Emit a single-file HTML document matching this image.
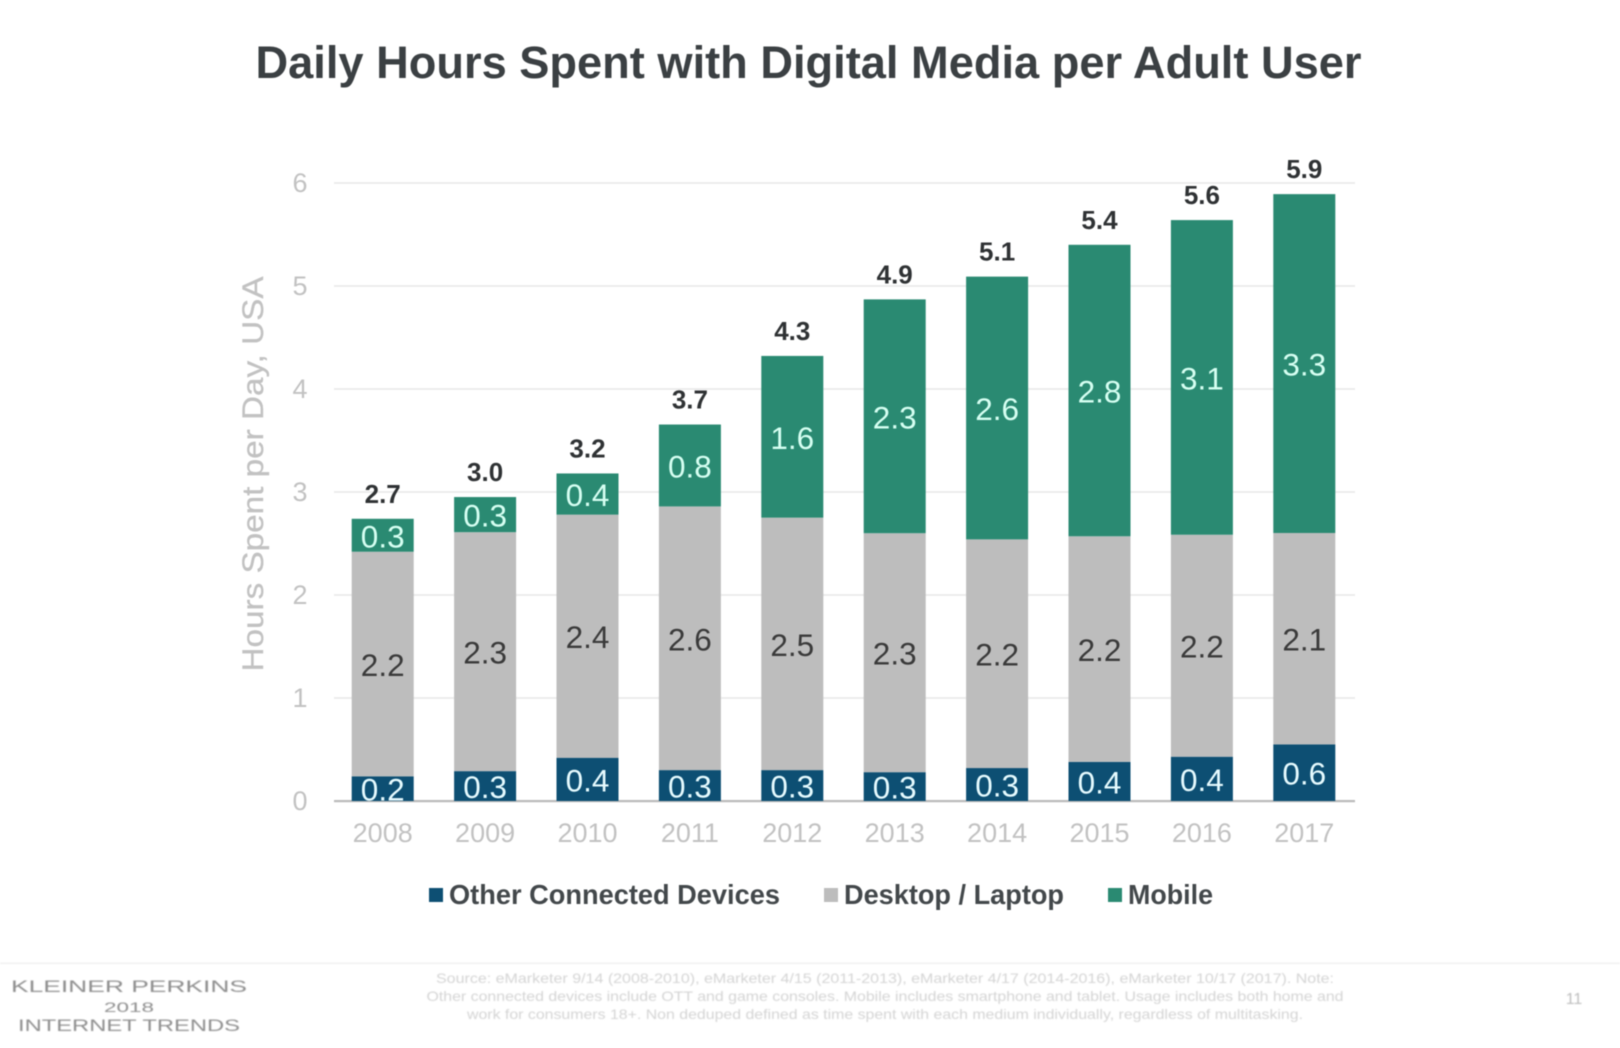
<!DOCTYPE html>
<html lang="en">
<head>
<meta charset="utf-8">
<title>Daily Hours Spent with Digital Media per Adult User</title>
<style>
html,body{margin:0;padding:0;background:#fff;width:1620px;height:1048px;overflow:hidden}
svg{display:block;font-family:"Liberation Sans",sans-serif}
#chart-root{filter:blur(.45px)}
#footer-root{filter:blur(.7px)}
</style>
</head>
<body>
<svg id="slide" width="1620" height="1048" viewBox="0 0 1620 1048">
  <g id="chart-root">
    <text x="808.5" y="78" text-anchor="middle" font-size="45" font-weight="700" fill="#3b4043" textLength="1106" lengthAdjust="spacingAndGlyphs">Daily Hours Spent with Digital Media per Adult User</text>
    <g id="grid"></g>
    <g id="bars"></g>
    <g id="yticks"></g>
    <g id="xticks"></g>
    <text transform="translate(263,474) rotate(-90)" text-anchor="middle" font-size="30" fill="#c2c2c2" stroke="#c2c2c2" stroke-width=".3" textLength="395" lengthAdjust="spacingAndGlyphs">Hours Spent per Day, USA</text>
    <g>
      <g>
        <rect x="429" y="888" width="14" height="14" fill="#0d4f73"></rect>
        <text x="449" y="904" font-size="28" font-weight="700" fill="#43484b" textLength="331" lengthAdjust="spacingAndGlyphs">Other Connected Devices</text>
      </g>
      <g>
        <rect x="824" y="888" width="14" height="14" fill="#bdbdbd"></rect>
        <text x="844" y="904" font-size="28" font-weight="700" fill="#43484b" textLength="220" lengthAdjust="spacingAndGlyphs">Desktop / Laptop</text>
      </g>
      <g>
        <rect x="1108" y="888" width="14" height="14" fill="#2a8a72"></rect>
        <text x="1128" y="904" font-size="28" font-weight="700" fill="#43484b" textLength="85" lengthAdjust="spacingAndGlyphs">Mobile</text>
      </g>
    </g>
  </g>
  <g id="footer-root">
    <rect x="0" y="962.5" width="1620" height="1.5" fill="#efefef"></rect>
    <text x="129" y="992" text-anchor="middle" font-size="17" fill="#8e8e8e" textLength="236" lengthAdjust="spacingAndGlyphs">KLEINER PERKINS</text>
    <text x="129" y="1012" text-anchor="middle" font-size="14" fill="#8e8e8e" textLength="50" lengthAdjust="spacingAndGlyphs">2018</text>
    <text x="129" y="1031" text-anchor="middle" font-size="17" fill="#8e8e8e" textLength="222" lengthAdjust="spacingAndGlyphs">INTERNET TRENDS</text>
    <g font-size="14" fill="#d4d4d4" text-anchor="middle">
      <text x="885" y="983" textLength="898" lengthAdjust="spacingAndGlyphs">Source: eMarketer 9/14 (2008-2010), eMarketer 4/15 (2011-2013), eMarketer 4/17 (2014-2016), eMarketer 10/17 (2017). Note:</text>
      <text x="885" y="1001" textLength="917" lengthAdjust="spacingAndGlyphs">Other connected devices include OTT and game consoles. Mobile includes smartphone and tablet. Usage includes both home and</text>
      <text x="885" y="1019" textLength="836" lengthAdjust="spacingAndGlyphs">work for consumers 18+. Non deduped defined as time spent with each medium individually, regardless of multitasking.</text>
    </g>
    <text x="1574" y="1004" text-anchor="middle" font-size="16" fill="#bdbdbd">11</text>
  </g>
</svg>
<script>
const categories = ['2008','2009','2010','2011','2012','2013','2014','2015','2016','2017'];
const otherDevices = [0.24,0.29,0.42,0.30,0.30,0.28,0.32,0.38,0.43,0.55];
const desktopLaptop = [2.18,2.32,2.36,2.56,2.451,2.32,2.22,2.19,2.155,2.052];
const mobile = [0.32,0.341,0.40,0.795,1.57,2.27,2.551,2.83,3.055,3.29];
const yTickLabels = ['0','1','2','3','4','5','6'];

const NS = 'http://www.w3.org/2000/svg';
const plot = {left: 334, right: 1355, base: 801, unit: 103, first: 382.7, step: 102.4, barWidth: 62};
const yScale = v => plot.base - v * plot.unit;
const xScale = i => plot.first + i * plot.step;

function make(tag, parent, attrs, text) {
  const el = document.createElementNS(NS, tag);
  for (const k in attrs) el.setAttribute(k, attrs[k]);
  if (text !== undefined) el.textContent = text;
  parent.appendChild(el);
  return el;
}

const gridG = document.getElementById('grid');
const yG = document.getElementById('yticks');
const xG = document.getElementById('xticks');
const barsG = document.getElementById('bars');

yTickLabels.forEach(label => {
  const v = Number(label);
  const line = make('rect', gridG, {x: plot.left, y: yScale(v) - 1, width: plot.right - plot.left, height: v === 0 ? 2.2 : 2, fill: v === 0 ? '#b9b9b9' : '#ececec'});
  
  
  const tick = make('text', yG, {x: 300, y: yScale(v) + 9, 'text-anchor': 'middle', 'font-size': 27, fill: '#c2c2c2'}, label);
  
  
});

const segments = [
  {key: 'other', values: otherDevices, fill: '#0d4f73', text: '#e6fbff'},
  {key: 'desktop', values: desktopLaptop, fill: '#bdbdbd', text: '#3a3a3a'},
  {key: 'mobile', values: mobile, fill: '#2a8a72', text: '#d6fff2'}
];

categories.forEach((cat, i) => {
  const cx = xScale(i);
  let acc = 0;
  segments.forEach(seg => {
    const v = seg.values[i];
    const top = yScale(acc + v);
    const bottom = yScale(acc);
    const bar = make('rect', barsG, {x: cx - plot.barWidth / 2, y: top, width: plot.barWidth, height: bottom - top, fill: seg.fill});
    
    
    acc += v;
  });
  let acc2 = 0;
  segments.forEach(seg => {
    const v = seg.values[i];
    const mid = yScale(acc2 + v / 2);
    const val = make('text', barsG, {x: cx, y: mid + 12, 'text-anchor': 'middle', 'font-size': 31.5, fill: seg.text}, v.toFixed(1));
    
    
    acc2 += v;
  });
  const total = make('text', barsG, {x: cx, y: yScale(acc) - 16, 'text-anchor': 'middle', 'font-size': 26, 'font-weight': 700, fill: '#2f3234'}, acc.toFixed(1));
  
  
  const xt = make('text', xG, {x: cx, y: 842, 'text-anchor': 'middle', 'font-size': 27, fill: '#c2c2c2'}, cat);
  
  
});
</script>
</body>
</html>
